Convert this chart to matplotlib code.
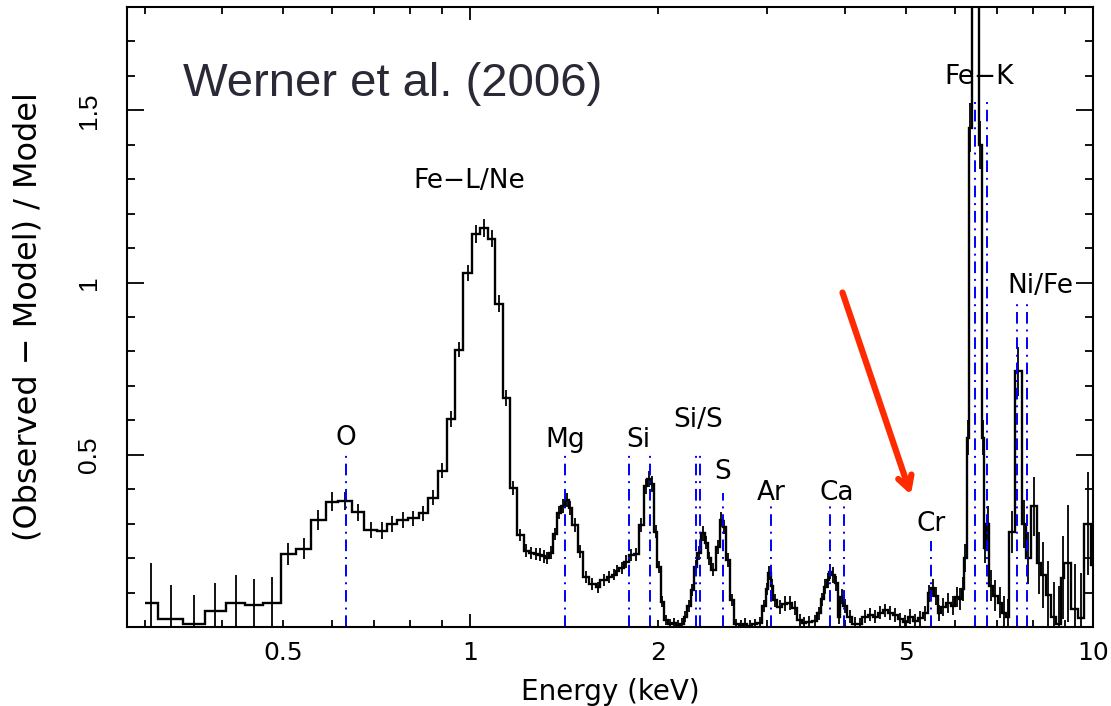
import numpy as np
import matplotlib.pyplot as plt
from matplotlib.ticker import FixedLocator, FixedFormatter, MultipleLocator

# bin edges (keV) and residuals
edges = [0.300, 0.315, 0.346, 0.375, 0.405, 0.435, 0.465, 0.496, 0.525, 0.555,
         0.586, 0.614, 0.645, 0.676, 0.708, 0.736, 0.764, 0.793, 0.826, 0.854,
         0.886, 0.917, 0.946, 0.975, 1.006, 1.035, 1.068, 1.097, 1.127, 1.157,
         1.187, 1.218, 1.241, 1.264, 1.284, 1.304, 1.320, 1.340, 1.360, 1.380,
         1.399, 1.418, 1.438, 1.457, 1.488, 1.518, 1.550, 1.589, 1.618, 1.659,
         1.686, 1.711, 1.736, 1.764, 1.797, 1.831, 1.865, 1.900, 1.924, 1.948,
         1.972, 1.997, 2.021, 2.046, 2.074, 2.105, 2.137, 2.168, 2.200, 2.230,
         2.258, 2.286, 2.315, 2.343, 2.378, 2.404, 2.432, 2.477, 2.517, 2.545,
         2.570, 2.612, 2.651, 2.697, 2.742, 2.786, 2.836, 2.888, 2.944, 2.981,
         3.006, 3.036, 3.067, 3.113, 3.171, 3.230, 3.290, 3.352, 3.406, 3.457,
         3.534, 3.610, 3.654, 3.698, 3.735, 3.767, 3.805, 3.847, 3.890, 3.924,
         3.974, 4.033, 4.109, 4.185, 4.263, 4.348, 4.429, 4.512, 4.597, 4.682,
         4.771, 4.859, 4.950, 5.043, 5.137, 5.233, 5.331, 5.425, 5.491, 5.559,
         5.629, 5.698, 5.803, 5.910, 5.998, 6.095, 6.156, 6.209, 6.271, 6.324,
         6.383, 6.473, 6.565, 6.622, 6.686, 6.742, 6.805, 6.905, 7.027, 7.153,
         7.247, 7.335, 7.493, 7.681, 7.805, 7.950, 8.120, 8.250, 8.404, 8.562,
         8.722, 8.886, 8.995, 9.220, 9.473, 9.683, 9.927, 10.04]

resid = [0.071, 0.023, 0.009, 0.047, 0.071, 0.064, 0.071, 0.212, 0.227, 0.311,
         0.364, 0.367, 0.333, 0.282, 0.280, 0.299, 0.311, 0.316, 0.330, 0.375,
         0.454, 0.604, 0.805, 1.028, 1.141, 1.159, 1.127, 0.939, 0.665, 0.404,
         0.267, 0.222, 0.215, 0.212, 0.210, 0.205, 0.200, 0.216, 0.270, 0.332,
         0.352, 0.369, 0.345, 0.296, 0.219, 0.146, 0.125, 0.115, 0.137, 0.146,
         0.152, 0.164, 0.172, 0.190, 0.209, 0.211, 0.296, 0.408, 0.430, 0.416,
         0.277, 0.175, 0.074, 0.020, 0.008, 0.012, 0.006, 0.010, 0.030, 0.060,
         0.108, 0.175, 0.214, 0.272, 0.245, 0.200, 0.166, 0.233, 0.311, 0.290,
         0.195, 0.078, 0.008, 0.005, 0.010, 0.004, 0.008, 0.012, 0.060, 0.110,
         0.156, 0.120, 0.078, 0.058, 0.068, 0.070, 0.055, 0.020, 0.012, 0.015,
         0.018, 0.040, 0.080, 0.117, 0.135, 0.161, 0.150, 0.127, 0.030, 0.088,
         0.060, 0.030, 0.010, 0.008, 0.030, 0.035, 0.030, 0.042, 0.048, 0.040,
         0.035, 0.022, 0.015, 0.030, 0.018, 0.025, 0.040, 0.098, 0.113, 0.090,
         0.040, 0.058, 0.070, 0.062, 0.087, 0.080, 0.110, 0.200, 0.550, 1.450,
         2.600, 2.300, 1.400, 0.550, 0.230, 0.300, 0.120, 0.090, 0.070, 0.040,
         0.030, 0.276, 0.742, 0.300, 0.200, 0.350, 0.185, 0.151, 0.093, 0.030,
         0.010, 0.143, 0.185, 0.052, 0.027, 0.300, 0.180]

err = [0.115, 0.100, 0.085, 0.080, 0.080, 0.075, 0.075, 0.032, 0.030, 0.028,
       0.027, 0.026, 0.025, 0.024, 0.024, 0.023, 0.023, 0.022, 0.022, 0.022,
       0.022, 0.022, 0.022, 0.024, 0.025, 0.026, 0.025, 0.024, 0.022, 0.020,
       0.018, 0.018, 0.018, 0.018, 0.018, 0.018, 0.018, 0.018, 0.018, 0.019,
       0.020, 0.020, 0.020, 0.019, 0.018, 0.017, 0.017, 0.017, 0.017, 0.017,
       0.017, 0.017, 0.017, 0.018, 0.018, 0.019, 0.020, 0.022, 0.024, 0.023,
       0.020, 0.018, 0.016, 0.015, 0.015, 0.015, 0.015, 0.015, 0.016, 0.017,
       0.018, 0.019, 0.020, 0.021, 0.020, 0.019, 0.019, 0.020, 0.022, 0.021,
       0.020, 0.017, 0.015, 0.015, 0.015, 0.015, 0.015, 0.016, 0.017, 0.018,
       0.020, 0.020, 0.019, 0.020, 0.021, 0.021, 0.020, 0.018, 0.018, 0.018,
       0.018, 0.019, 0.020, 0.022, 0.022, 0.023, 0.023, 0.022, 0.020, 0.022,
       0.020, 0.018, 0.018, 0.018, 0.018, 0.019, 0.019, 0.020, 0.020, 0.020,
       0.020, 0.020, 0.020, 0.021, 0.021, 0.022, 0.022, 0.025, 0.026, 0.025,
       0.024, 0.026, 0.028, 0.028, 0.030, 0.032, 0.035, 0.040, 0.050, 0.070,
       0.090, 0.090, 0.070, 0.050, 0.045, 0.050, 0.045, 0.045, 0.045, 0.050,
       0.050, 0.060, 0.070, 0.070, 0.075, 0.085, 0.090, 0.095, 0.100, 0.100,
       0.110, 0.120, 0.170, 0.130, 0.130, 0.150, 0.150]

# line positions (observed frame) and how high their markers reach
line_e = [0.632, 1.421, 1.800, 1.942, 2.300, 2.334, 2.545, 3.036, 3.782, 3.983,
          5.49, 6.47, 6.76, 7.54, 7.83]
line_top = [0.50, 0.50, 0.50, 0.50, 0.50, 0.50, 0.39, 0.35, 0.35, 0.35,
            0.25, 1.535, 1.535, 0.94, 0.94]

lab_text = ['O', 'Fe\u2212L/Ne', 'Mg', 'Si', 'Si/S', 'S', 'Ar', 'Ca', 'Cr',
            'Fe\u2212K', 'Ni/Fe']
lab_x = [0.632, 0.995, 1.421, 1.863, 2.325, 2.54, 3.04, 3.87, 5.50, 6.56, 8.23]
lab_y = [0.55, 1.294, 0.544, 0.544, 0.60, 0.45, 0.39, 0.39, 0.30, 1.596, 0.99]

edges = np.array(edges)
resid = np.array(resid)
err = np.array(err)
centers = np.sqrt(edges[:-1] * edges[1:])

fig = plt.figure(figsize=(11.11, 7.06), dpi=100)
ax = fig.add_axes([0.1143, 0.1119, 0.8695, 0.8782])

ax.stairs(resid, edges, baseline=None, color='k', lw=1.7)
ax.errorbar(centers, resid, yerr=err, fmt='none', ecolor='k', elinewidth=1.3, capsize=0)
ax.vlines(line_e, 0, line_top, colors='#0000ff', linestyles=[(0, (6, 3, 1, 3))], lw=1.4)

for t, x, y in zip(lab_text, lab_x, lab_y):
    ax.text(x, y, t, fontsize=19, ha='center', va='center', family='DejaVu Sans')

ax.text(0.058, 0.876, 'Werner et al. (2006)', transform=ax.transAxes, fontsize=34,
        family='Liberation Sans', color='#2a2a36', ha='left', va='center')

ax.annotate('', xy=(5.10, 0.384), xytext=(3.96, 0.971),
            arrowprops=dict(arrowstyle='->,head_length=0.9,head_width=0.5',
                            color='#ff2a00', lw=4.5, shrinkA=0, shrinkB=0))

ax.set_xscale('log')
ax.set_xlim(0.281, 10.0)
ax.set_ylim(0, 1.8)

ax.xaxis.set_major_locator(FixedLocator([1, 10]))
ax.xaxis.set_major_formatter(FixedFormatter(['1', '10']))
ax.xaxis.set_minor_locator(FixedLocator([0.3, 0.4, 0.5, 0.6, 0.7, 0.8, 0.9, 2, 3, 4, 5, 6, 7, 8, 9]))
ax.xaxis.set_minor_formatter(FixedFormatter(['', '', '0.5', '', '', '', '', '2', '', '', '5', '', '', '', '']))
ax.yaxis.set_major_locator(FixedLocator([0.5, 1.0, 1.5]))
ax.yaxis.set_major_formatter(FixedFormatter(['0.5', '1', '1.5']))
ax.yaxis.set_minor_locator(MultipleLocator(0.1))

ax.tick_params(which='both', direction='in', top=True, right=True, width=1.3)
ax.tick_params(axis='x', which='major', length=9.5, labelsize=18, pad=10)
ax.tick_params(axis='x', which='minor', length=5, labelsize=18, pad=10)
ax.tick_params(axis='y', which='major', length=12, labelsize=19, pad=19, labelrotation=90)
ax.tick_params(axis='y', which='minor', length=5.5)
for lbl in ax.get_yticklabels():
    lbl.set_va('center')
    lbl.set_family('Liberation Sans')
for sp in ax.spines.values():
    sp.set_linewidth(1.5)

ax.set_xlabel('Energy (keV)', fontsize=20)
ax.xaxis.set_label_coords(0.5, -0.082)
fig.text(0.025, 0.551, '(Observed \u2212 Model) / Model', rotation=90, fontsize=23,
         ha='center', va='center')

fig.savefig('out.png', dpi=100)
